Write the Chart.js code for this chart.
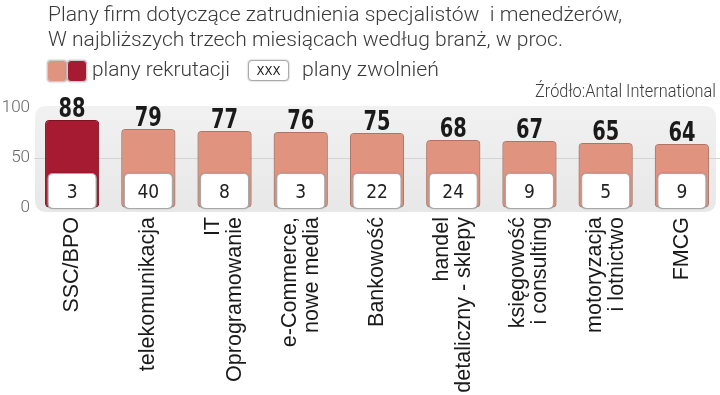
<!DOCTYPE html>
<html>
<head>
<meta charset="utf-8">
<script src="https://cdn.jsdelivr.net/npm/chart.js@4"></script>
<style>
  html, body { margin:0; padding:0; background:#fff; }
  #wrap { position:relative; width:720px; height:395px; overflow:hidden; }
  #wrap canvas { position:absolute; left:0; top:0; }
  .txt { position:absolute; white-space:nowrap; color:#3a3a3a; line-height:1; font-family:Roboto,"Liberation Sans",sans-serif; font-weight:300; display:inline-block; transform-origin:0 0; }
  .sw { position:absolute; border-radius:4px; box-sizing:border-box; border:1px solid #ccc; box-shadow:0 0 2px rgba(0,0,0,0.35); }
</style>
</head>
<body>
<div id="wrap">
  <canvas id="c" width="720" height="395"></canvas>
  <div class="txt fit" data-w="574" style="left:48px;top:4px;font-size:21px;">Plany firm dotyczące zatrudnienia specjalistów&nbsp; i menedżerów,</div>
  <div class="txt fit" data-w="515" style="left:48px;top:29px;font-size:21px;">W najbliższych trzech miesiącach według branż, w proc.</div>
  <div class="sw" style="left:47px;top:60px;width:20px;height:22px;background:#E0937E;"></div>
  <div class="sw" style="left:67px;top:60px;width:20px;height:22px;background:#A61B31;"></div>
  <div class="txt fit" data-w="138" style="left:92px;top:59px;font-size:21px;">plany rekrutacji</div>
  <div class="sw" style="left:248px;top:60px;width:41px;height:21px;background:#fff;border-color:#aaa;"></div>
  <div class="txt" style="left:248px;top:64px;width:41px;text-align:center;font-size:13px;font-weight:400;color:#222;font-family:'DejaVu Sans Condensed',sans-serif;">XXX</div>
  <div class="txt fit" data-w="137" style="left:302px;top:59px;font-size:21px;">plany zwolnień</div>
  <div class="txt fit" data-w="181" data-right="716" style="top:82px;font-size:18px;">Źródło:Antal International</div>
</div>
<script>
const categories = [
  ['SSC/BPO'],
  ['telekomunikacja'],
  ['IT', 'Oprogramowanie'],
  ['e-Commerce,', 'nowe media'],
  ['Bankowość'],
  ['handel', 'detaliczny - sklepy'],
  ['księgowość', 'i consulting'],
  ['motoryzacja', 'i lotnictwo'],
  ['FMCG']
];
const recruitmentPlans = [88, 79, 77, 76, 75, 68, 67, 65, 64];
const layoffPlans = [3, 40, 8, 3, 22, 24, 9, 5, 9];
const yTickValues = [0, 50, 100];

// fit header texts to measured reference widths
document.querySelectorAll('.fit').forEach(el => {
  const w = el.getBoundingClientRect().width;
  const target = +el.dataset.w;
  const k = target / w;
  el.style.transform = 'scaleX(' + k + ')';
  if (el.dataset.right) {
    el.style.left = (+el.dataset.right - target) + 'px';
  }
});

const COND = '"DejaVu Sans Condensed","Liberation Sans",sans-serif';
const SALMON = '#E0937E';
const DARKRED = '#A61B31';

function rr(ctx, x, y, w, h, r) {
  ctx.beginPath();
  ctx.moveTo(x + r, y);
  ctx.lineTo(x + w - r, y);
  ctx.quadraticCurveTo(x + w, y, x + w, y + r);
  ctx.lineTo(x + w, y + h - r);
  ctx.quadraticCurveTo(x + w, y + h, x + w - r, y + h);
  ctx.lineTo(x + r, y + h);
  ctx.quadraticCurveTo(x, y + h, x, y + h - r);
  ctx.lineTo(x, y + r);
  ctx.quadraticCurveTo(x, y, x + r, y);
  ctx.closePath();
}

const panelPlugin = {
  id: 'panel',
  beforeDraw(chart) {
    const { ctx, chartArea: a } = chart;
    ctx.save();
    const g = ctx.createLinearGradient(0, a.top, 0, a.bottom);
    g.addColorStop(0, '#F1F1F1');
    g.addColorStop(1, '#E8E8E8');
    ctx.fillStyle = g;
    rr(ctx, a.left + 1, a.top - 2, 716 - a.left - 1, a.bottom - a.top + 6, 12);
    ctx.fill();
    ctx.restore();
  }
};

const shadowPlugin = {
  id: 'barShadow',
  beforeDatasetsDraw(chart) {
    const ctx = chart.ctx;
    ctx.save();
    ctx.shadowColor = 'rgba(0,0,0,0.35)';
    ctx.shadowBlur = 3;
  },
  afterDatasetsDraw(chart) {
    chart.ctx.restore();
  }
};

const overlayPlugin = {
  id: 'overlay',
  afterDatasetsDraw(chart) {
    const { ctx } = chart;
    const meta = chart.getDatasetMeta(0);
    const xs = chart.scales.x;
    ctx.save();
    meta.data.forEach((bar, i) => {
      const w = bar.width;
      const left = bar.x - w / 2;
      const base = bar.base;
      // layoff box
      const bx = left + 3, bw = w - 6, by = base - 34, bh = 35;
      ctx.save();
      ctx.shadowColor = 'rgba(0,0,0,0.3)';
      ctx.shadowBlur = 2;
      rr(ctx, bx, by, bw, bh, 5);
      ctx.fillStyle = '#fff';
      ctx.fill();
      ctx.restore();
      rr(ctx, bx, by, bw, bh, 5);
      ctx.lineWidth = 1.2;
      ctx.strokeStyle = '#A8A8A8';
      ctx.stroke();
      ctx.fillStyle = '#222';
      ctx.font = '19px ' + COND;
      ctx.textAlign = 'center';
      ctx.textBaseline = 'alphabetic';
      ctx.fillText(String(layoffPlans[i]), bar.x, by + bh / 2 + 7);
      // value label (condensed bold)
      ctx.save();
      ctx.translate(bar.x, bar.y - 3);
      ctx.scale(0.83, 1);
      ctx.font = 'bold 26px ' + COND;
      ctx.fillStyle = '#1a1a1a';
      ctx.fillText(String(recruitmentPlans[i]), 0, 0);
      ctx.restore();
    });
    // category labels (rotated)
    ctx.font = '21.5px "Liberation Sans", Arial, sans-serif';
    ctx.fillStyle = '#1a1a1a';
    ctx.textAlign = 'right';
    ctx.textBaseline = 'middle';
    const lh = 22;
    categories.forEach((lines, i) => {
      const cx = xs.getPixelForValue(i);
      const n = lines.length;
      lines.forEach((ln, j) => {
        const x = cx + (j - (n - 1) / 2) * lh;
        ctx.save();
        ctx.translate(x, chart.chartArea.bottom + 9);
        ctx.rotate(-Math.PI / 2);
        ctx.fillText(ln, 0, 0);
        ctx.restore();
      });
    });
    ctx.restore();
  }
};

new Chart(document.getElementById('c'), {
  type: 'bar',
  data: {
    labels: categories,
    datasets: [{
      data: recruitmentPlans,
      backgroundColor: recruitmentPlans.map((v, i) => i === 0 ? DARKRED : SALMON),
      borderColor: recruitmentPlans.map((v, i) => i === 0 ? '#8E1426' : '#C98570'),
      borderWidth: 1,
      borderRadius: 4,
      borderSkipped: false,
      barPercentage: 0.71,
      categoryPercentage: 1.0
    }]
  },
  options: {
    responsive: false,
    animation: false,
    devicePixelRatio: 1,
    layout: { padding: { top: 108, left: 0, right: 0, bottom: 0 } },
    plugins: { legend: { display: false }, tooltip: { enabled: false } },
    scales: {
      x: {
        grid: { display: false },
        border: { display: false },
        ticks: { display: false },
        afterFit(s) { s.height = 187; }
      },
      y: {
        min: 0, max: 100,
        afterBuildTicks(s) { s.ticks = yTickValues.map(v => ({ value: v })); },
        grid: {
          color: ctx => (ctx.tick && ctx.tick.value === 50) ? '#D4D4D4' : 'rgba(0,0,0,0)',
          drawTicks: false,
          lineWidth: 1
        },
        border: { display: false },
        ticks: {
          color: '#666',
          padding: 4,
          font: { family: 'Roboto, "DejaVu Sans Condensed", sans-serif', size: 17, weight: '300' }
        },
        afterFit(s) { s.width = 34; }
      }
    }
  },
  plugins: [panelPlugin, shadowPlugin, overlayPlugin]
});
</script>
</body>
</html>
